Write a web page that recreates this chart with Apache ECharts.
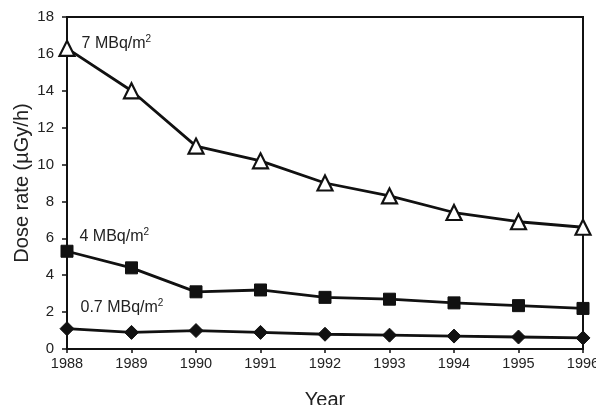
<!DOCTYPE html>
<html><head><meta charset="utf-8">
<script src="https://cdn.jsdelivr.net/npm/echarts@6/dist/echarts.min.js"></script>
<style>html,body{margin:0;padding:0;background:#fff}#c{width:596px;height:405px}</style>
</head><body><div id="c"></div>
<script>
const years = ['1988','1989','1990','1991','1992','1993','1994','1995','1996'];
const yTicks = [0,2,4,6,8,10,12,14,16,18];
const s7 = [16.3,14.0,11.0,10.2,9.0,8.3,7.4,6.9,6.6];
const s4 = [5.3,4.4,3.1,3.2,2.8,2.7,2.5,2.35,2.2];
const s07 = [1.1,0.9,1.0,0.9,0.8,0.75,0.7,0.65,0.6];
const names = ['7 MBq/m', '4 MBq/m', '0.7 MBq/m'];

const chart = echarts.init(document.getElementById('c'));
const FONT = 'Liberation Sans, Arial, sans-serif';
function labeled(arr, name, offY){
  return arr.map((v,i)=> i===0 ? {value:v, label:{show:true, position:'right', offset:[1,offY],
    formatter:'{a|'+name+'}{s|2}', rich:{a:{fontSize:16,fontFamily:FONT,color:'#222'}, s:{fontSize:10,fontFamily:FONT,color:'#222',verticalAlign:'top',padding:[0,0,8,0]}}}} : v);
}
const lineStyle = {color:'#111', width:2.8};
chart.setOption({
  animation:false,
  grid:{left:67,right:13,top:17,bottom:56,show:true,borderColor:'#111',borderWidth:2,outerBoundsMode:'none',containLabel:false},
  xAxis:{type:'category',data:years,boundaryGap:false,
    name:'Year',nameLocation:'middle',nameGap:41,nameMoveOverlap:false,nameTextStyle:{fontSize:20,fontFamily:FONT,color:'#222',verticalAlign:'top'},
    axisLine:{lineStyle:{color:'#111',width:2}},
    axisTick:{show:true,length:4,inside:false,lineStyle:{color:'#111',width:1.5}},
    axisLabel:{fontSize:14.5,fontFamily:FONT,color:'#222',margin:7},
    splitLine:{show:false}},
  yAxis:{type:'value',min:0,max:18,interval:2,
    name:'Dose rate (\u00b5Gy/h)',nameLocation:'middle',nameGap:35,nameMoveOverlap:false,nameTextStyle:{fontSize:20,fontFamily:FONT,color:'#222'},
    axisLine:{show:true,lineStyle:{color:'#111',width:2}},
    axisTick:{show:true,length:5,lineStyle:{color:'#111',width:1.5}},
    axisLabel:{fontSize:15,fontFamily:FONT,color:'#222',margin:13,formatter:v=>yTicks.includes(v)?String(v):''},
    splitLine:{show:false}},
  series:[
    {type:'line',data:labeled(s7,names[0],-5),symbol:'triangle',symbolSize:15,lineStyle,
      itemStyle:{color:'#fff',borderColor:'#111',borderWidth:2.2},z:3},
    {type:'line',data:labeled(s4,names[1],-15),symbol:'rect',symbolSize:12,lineStyle,
      itemStyle:{color:'#111',borderColor:'#111'},z:3},
    {type:'line',data:labeled(s07,names[2],-21),symbol:'diamond',symbolSize:14,lineStyle,
      itemStyle:{color:'#111',borderColor:'#111'},z:3}
  ]
});
</script></body></html>
